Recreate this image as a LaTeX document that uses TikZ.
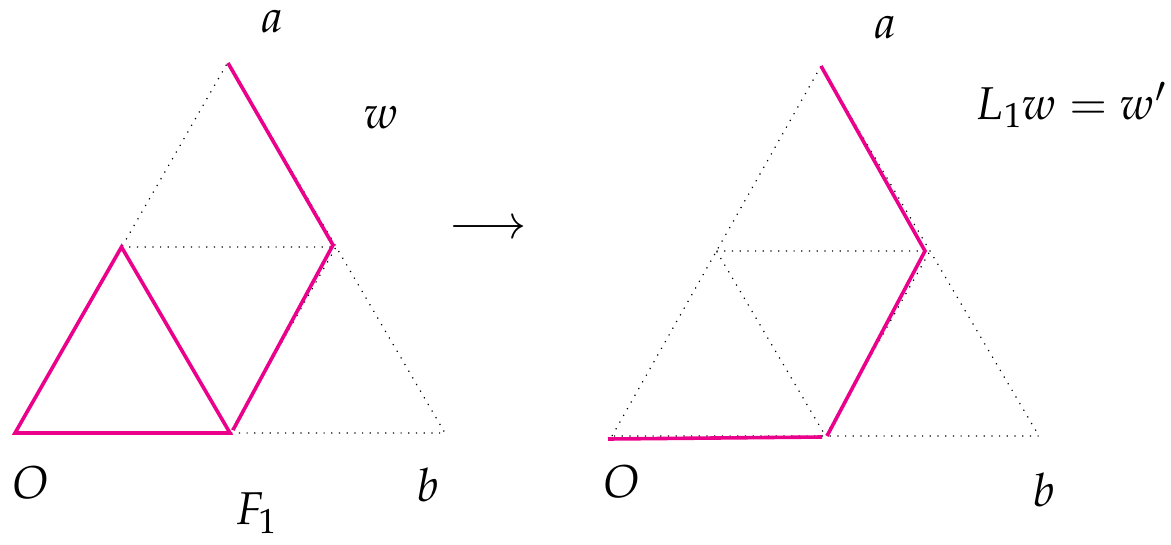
\documentclass[tikz,border=0pt]{standalone}
\usepackage{mathpazo}
\definecolor{mag}{RGB}{234,0,139}
\tikzset{
  dotline/.style={line width=1.2pt, dash pattern=on 1.2pt off 6.5pt, black},
  magline/.style={line width=3.6pt, mag, line join=miter},
  lbl/.style={inner sep=0pt, font=\fontsize{46}{55}\selectfont}
}
\begin{document}
\begin{tikzpicture}[x=1pt,y=-1pt]
\useasboundingbox (0,0) rectangle (1171,544);
% left triangle
\coordinate (O1) at (15,433);
\coordinate (B1) at (445,433);
\coordinate (A1) at (228,62);
\coordinate (L1) at (121.5,247);
\coordinate (R1) at (336,247);
\coordinate (M1) at (230,433);
\draw[dotline] (O1) -- (A1) -- (B1) -- cycle;
\draw[dotline] (L1) -- (R1) -- (M1) -- cycle;
\coordinate (pa) at (228,63);
\coordinate (pr) at (333,245);
\coordinate (pm) at (233,430);
\draw[magline] (pa) -- (pr) -- (pm);
\draw[magline] (O1) -- (L1) -- (M1) -- cycle;
% right triangle
\coordinate (O2) at (612,436);
\coordinate (B2) at (1039,436);
\coordinate (A2) at (821,66);
\coordinate (L2) at (716.5,251);
\coordinate (R2) at (930,251);
\coordinate (M2) at (825.5,436);
\draw[dotline] (O2) -- (A2) -- (B2) -- cycle;
\draw[dotline] (L2) -- (R2) -- (M2) -- cycle;
\coordinate (qa) at (821,66);
\coordinate (qr) at (925,251);
\coordinate (qm) at (827,436);
\coordinate (qo) at (608,439);
\coordinate (qe) at (822,437);
\draw[magline] (qa) -- (qr) -- (qm);
\draw[magline] (qo) -- (qe);
% labels
\node[lbl] (la1) at (272,22) {$a$};
\node[lbl] (lw) at (381,118) {$w$};
\node[lbl] (lO1) at (31,483) {$O$};
\node[lbl] (lb1) at (428,485) {$b$};
\node[lbl] (lF) at (256,513) {$F_1$};
\node[lbl] (arr) at (488,230) {$\longrightarrow$};
\node[lbl] (la2) at (885,28) {$a$};
\node[lbl] (lL) at (1071,105) {$L_1w = w'$};
\node[lbl] (lO2) at (622,482) {$O$};
\node[lbl] (lb2) at (1044,490) {$b$};
\end{tikzpicture}
\end{document}
